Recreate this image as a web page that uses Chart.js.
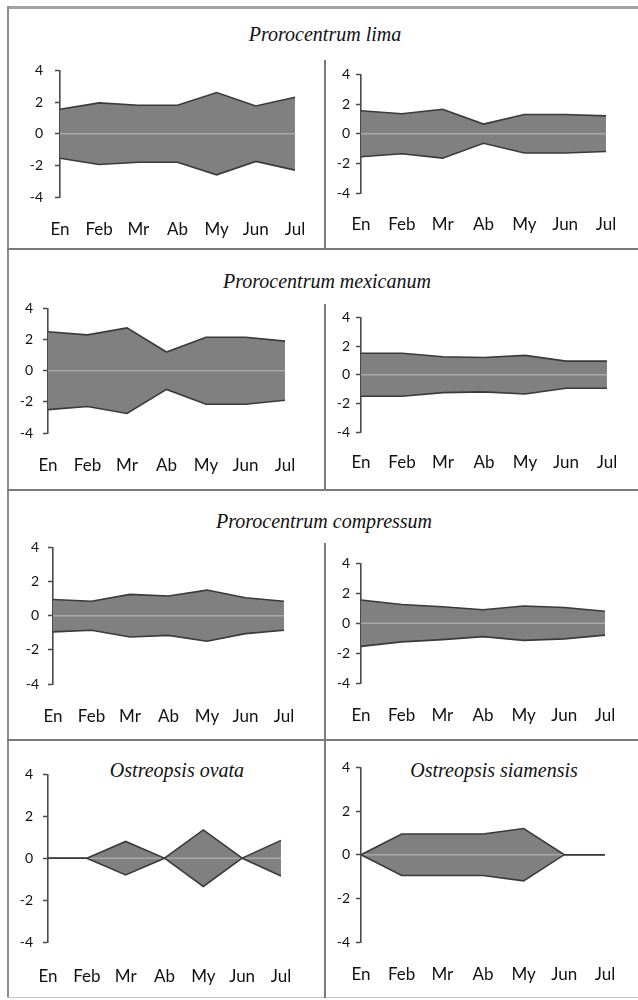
<!DOCTYPE html>
<html>
<head>
<meta charset="utf-8">
<script src="https://cdn.jsdelivr.net/npm/chart.js@4.4.1/dist/chart.umd.min.js"></script>
<style>
  html, body { margin: 0; padding: 0; background: #fff; }
  #wrap { position: relative; width: 638px; height: 1000px; overflow: hidden; background: #fff; }
  .rule { position: absolute; }
  .title { position: absolute; width: 400px; text-align: center; font: italic 20px 'Liberation Serif', 'DejaVu Serif', serif; line-height: 20px; color: #111; white-space: nowrap; }
  canvas { position: absolute; }
</style>
</head>
<body>
<div id="wrap">
  <!-- panel frame -->
  <div class="rule" style="left:7px;top:6px;width:631px;height:3px;background:#a3a3a3"></div>
  <div class="rule" style="left:7px;top:6px;width:2px;height:992px;background:#8c8c8c"></div>
  <div class="rule" style="left:7px;top:248px;width:631px;height:2px;background:#7a7a7a"></div>
  <div class="rule" style="left:7px;top:489px;width:631px;height:2px;background:#7a7a7a"></div>
  <div class="rule" style="left:7px;top:739px;width:631px;height:2px;background:#7a7a7a"></div>
  <div class="rule" style="left:7px;top:997px;width:631px;height:1px;background:#c4c4c4"></div>
  <div class="rule" style="left:324px;top:60px;width:2px;height:189px;background:#7a7a7a"></div>
  <div class="rule" style="left:324px;top:304px;width:2px;height:186px;background:#7a7a7a"></div>
  <div class="rule" style="left:324px;top:543px;width:2px;height:197px;background:#7a7a7a"></div>
  <div class="rule" style="left:324px;top:740px;width:2px;height:258px;background:#7a7a7a"></div>

  <div class="title" style="left:125px;top:24px">Prorocentrum lima</div>
  <div class="title" style="left:127px;top:271px">Prorocentrum mexicanum</div>
  <div class="title" style="left:124px;top:511px">Prorocentrum compressum</div>
  <div class="title" style="left:-23px;top:760px">Ostreopsis ovata</div>
  <div class="title" style="left:294px;top:760px">Ostreopsis siamensis</div>
</div>
<script>
// Months sampled (January to July)
const months = ['En', 'Feb', 'Mr', 'Ab', 'My', 'Jun', 'Jul'];
const yTicks = [-4, -2, 0, 2, 4];

// Half-width of each kite (abundance index), mirrored around zero
const limaA = [1.55, 1.95, 1.8, 1.8, 2.6, 1.75, 2.3];
const limaB = [1.55, 1.35, 1.65, 0.65, 1.3, 1.3, 1.2];
const mexicanumA = [2.5, 2.3, 2.75, 1.2, 2.15, 2.15, 1.9];
const mexicanumB = [1.5, 1.5, 1.25, 1.2, 1.35, 0.95, 0.95];
const compressumA = [0.95, 0.85, 1.25, 1.15, 1.5, 1.05, 0.85];
const compressumB = [1.55, 1.25, 1.1, 0.9, 1.15, 1.05, 0.8];
const ovata = [0, 0, 0.8, 0, 1.35, 0, 0.85];
const siamensis = [0, 0.95, 0.95, 0.95, 1.2, 0, 0];

const FILL = '#808080';
const EDGE = '#3a3a3a';
const ZERO = '#a8a8a8';
const AXIS = '#4a4a4a';
const TEXT = '#111111';

// Plot-area geometry of each panel in page pixels
const panels = [
  { values: limaA,       axisX: 60,  right: 310, top: 62,  bottom: 197, labelY: 230, gap: 17 },
  { values: limaB,       axisX: 361, right: 620, top: 72,  bottom: 193, labelY: 225, gap: 11 },
  { values: mexicanumA,  axisX: 48,  right: 300, top: 302, bottom: 433, labelY: 466, gap: 15 },
  { values: mexicanumB,  axisX: 361, right: 620, top: 315, bottom: 432, labelY: 463, gap: 11 },
  { values: compressumA, axisX: 53,  right: 299, top: 542, bottom: 684, labelY: 717, gap: 14 },
  { values: compressumB, axisX: 361, right: 620, top: 561, bottom: 683, labelY: 716, gap: 11 },
  { values: ovata,       axisX: 48,  right: 298, top: 768, bottom: 942, labelY: 977, gap: 15 },
  { values: siamensis,   axisX: 361, right: 620, top: 765, bottom: 942, labelY: 975, gap: 11 }
];

function makePanel(p) {
  const wrap = document.getElementById('wrap');
  const padL = 45, padT = 12, padR = 18, padB = 14;
  const left = p.axisX - padL;
  const top = p.top - padT;
  const w = p.right + padR - left;
  const h = p.labelY + padB - top;
  const xAxisH = p.labelY + padB - p.bottom;
  const xFont = 17;

  const canvas = document.createElement('canvas');
  canvas.width = w;
  canvas.height = h;
  canvas.style.left = left + 'px';
  canvas.style.top = top + 'px';
  canvas.style.width = w + 'px';
  canvas.style.height = h + 'px';
  wrap.appendChild(canvas);

  const line = { pointRadius: 0, borderWidth: 1.6, tension: 0 };

  new Chart(canvas, {
    type: 'line',
    data: {
      labels: months,
      datasets: [
        Object.assign({ data: p.values, fill: '+1', backgroundColor: FILL, borderColor: EDGE }, line),
        Object.assign({ data: p.values.map(v => -v), fill: false, borderColor: EDGE }, line),
        Object.assign({ data: months.map(() => 0), fill: false, borderColor: ZERO, borderWidth: 1.5 }, { pointRadius: 0, tension: 0 })
      ]
    },
    options: {
      responsive: false,
      animation: false,
      devicePixelRatio: 1,
      layout: { padding: { left: 0, top: padT, right: padR, bottom: 0 } },
      plugins: {
        legend: { display: false },
        tooltip: { enabled: false },
        filler: { drawTime: 'beforeDatasetsDraw' }
      },
      scales: {
        x: {
          offset: false,
          grid: { display: false, drawTicks: false },
          border: { display: false },
          ticks: {
            autoSkip: false, maxRotation: 0,
            padding: p.labelY - p.bottom - xFont * 0.6,
            font: { family: 'Lato', size: xFont },
            color: TEXT
          },
          afterFit: a => { a.height = xAxisH; }
        },
        y: {
          min: yTicks[0],
          max: yTicks[yTicks.length - 1],
          afterBuildTicks: s => { s.ticks = yTicks.map(v => ({ value: v })); },
          grid: { drawOnChartArea: false, drawTicks: true, tickLength: 5, tickColor: AXIS, tickWidth: 1.5 },
          border: { display: true, color: AXIS, width: 1.6 },
          ticks: {
            padding: p.gap - 5,
            font: { family: 'Lato', size: 14 },
            color: TEXT
          },
          afterFit: a => { a.width = padL; }
        }
      }
    }
  });
}

function build() { panels.forEach(makePanel); }

if (document.fonts && document.fonts.load) {
  Promise.all([
    document.fonts.load('16px Lato'),
    document.fonts.load('italic 20px "Liberation Serif"')
  ]).then(build, build);
} else {
  build();
}
</script>
</body>
</html>
